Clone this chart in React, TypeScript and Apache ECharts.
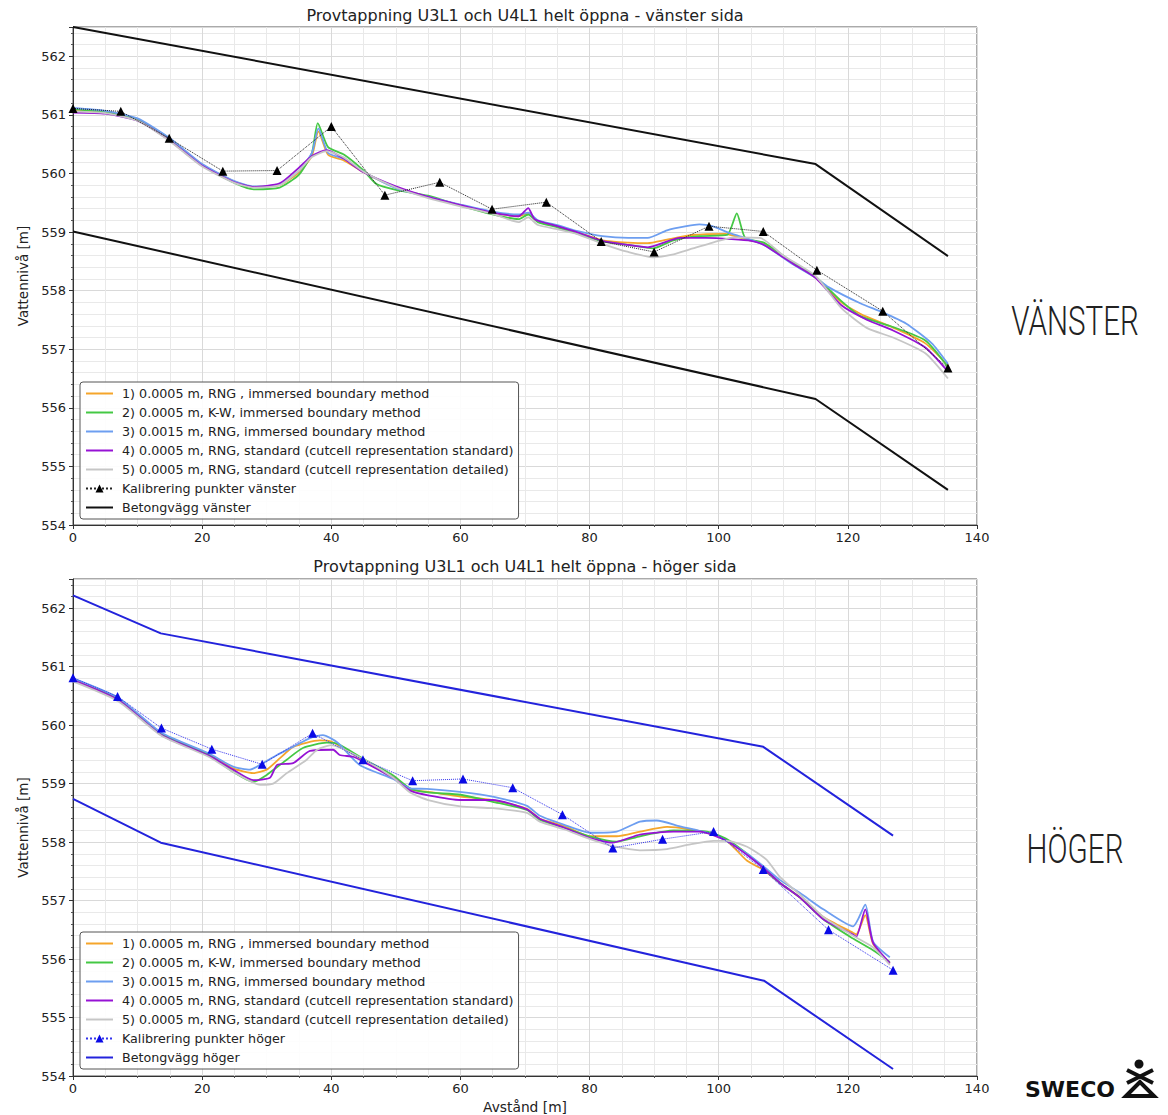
import React, { useEffect, useRef } from "react";
import * as echarts from "echarts";

// ---------- categories / names ----------
const SIM_NAMES = [
  "1) 0.0005 m, RNG , immersed boundary method",
  "2) 0.0005 m, K-W, immersed boundary method",
  "3) 0.0015 m, RNG, immersed boundary method",
  "4) 0.0005 m, RNG, standard (cutcell representation standard)",
  "5) 0.0005 m, RNG, standard (cutcell representation detailed)",
];
const SIM_COLORS = ["#f5a52a", "#44c844", "#6d9ef0", "#9612d4", "#c6c6c6"];

const TITLE_V = "Provtappning U3L1 och U4L1 helt öppna - vänster sida";
const TITLE_H = "Provtappning U3L1 och U4L1 helt öppna - höger sida";
const CALIB_V_NAME = "Kalibrering punkter vänster";
const CALIB_H_NAME = "Kalibrering punkter höger";
const WALL_V_NAME = "Betongvägg vänster";
const WALL_H_NAME = "Betongvägg höger";

// ---------- vänster (left side) ----------
const V_WALL_UPPER = [[0, 562.5], [115, 560.16], [135.5, 558.59]];
const V_WALL_LOWER = [[0, 559.01], [115, 556.15], [135.5, 554.6]];
const V_CALIB = [
  [0, 561.11], [7.4, 561.06], [14.9, 560.6], [23.2, 560.04], [31.6, 560.05],
  [40, 560.8], [48.3, 559.63], [56.8, 559.85], [64.9, 559.39], [73.3, 559.51],
  [81.8, 558.84], [90, 558.66], [98.5, 559.1], [106.9, 559.01], [115.2, 558.35],
  [125.4, 557.65], [135.5, 556.68],
];
const V_S1 = [
  [0, 561.08], [5, 561.05], [10, 560.92], [15, 560.58], [20, 560.15], [25, 559.86],
  [28, 559.77], [32, 559.8], [35, 560.02], [37, 560.3], [38, 560.72], [39.5, 560.32],
  [42, 560.22], [45, 560.02], [50, 559.76], [55, 559.6], [60, 559.46], [65, 559.33],
  [69, 559.27], [70.5, 559.32], [72, 559.18], [75, 559.1], [78, 559.0], [82, 558.86],
  [86, 558.82], [89, 558.81], [92, 558.87], [96, 558.95], [101, 558.97], [104, 558.88],
  [107, 558.8], [111.5, 558.47], [115, 558.22], [119, 557.8], [122, 557.6], [127, 557.37],
  [132, 557.1], [135.5, 556.72],
];
const V_S2 = [
  [0, 561.1], [5, 561.05], [10, 560.92], [15, 560.58], [20, 560.14], [25, 559.84],
  [28, 559.73], [32, 559.76], [35, 559.98], [37, 560.35], [37.9, 560.86], [39.5, 560.45],
  [42, 560.32], [45, 560.05], [47, 559.82], [50, 559.72], [55, 559.62], [60, 559.45],
  [65, 559.3], [69, 559.22], [70.5, 559.3], [72, 559.17], [75, 559.08], [82, 558.84],
  [86, 558.78], [89.8, 558.72], [93, 558.86], [97, 558.93], [101.3, 558.95], [102.8, 559.32],
  [104.1, 558.9], [107, 558.82], [111.5, 558.48], [115, 558.24], [119, 557.82], [122, 557.56],
  [127, 557.38], [132, 557.15], [135.5, 556.7],
];
const V_S3 = [
  [0, 561.12], [5, 561.07], [10, 560.94], [15, 560.6], [20, 560.16], [25, 559.87],
  [28, 559.78], [32, 559.82], [35, 560.05], [37, 560.35], [38, 560.77], [39.5, 560.35],
  [42, 560.25], [45, 560.03], [50, 559.75], [55, 559.6], [60, 559.47], [65, 559.35],
  [69, 559.3], [70.5, 559.33], [72, 559.2], [75, 559.12], [78, 559.02], [82, 558.93],
  [86, 558.9], [89, 558.9], [92, 559.03], [95, 559.1], [97, 559.13], [99, 559.1],
  [101.3, 559.0], [104, 558.9], [107, 558.78], [111.5, 558.45], [115, 558.22], [117, 558.06],
  [122, 557.78], [125.4, 557.63], [129, 557.44], [133, 557.1], [135.5, 556.75],
];
const V_S4 = [
  [0, 561.04], [5, 561.02], [10, 560.9], [15, 560.56], [20, 560.13], [25, 559.85],
  [28, 559.77], [32, 559.83], [35, 560.1], [37, 560.3], [39.3, 560.4], [42, 560.25],
  [45, 560.02], [50, 559.78], [55, 559.6], [60, 559.46], [65, 559.33], [69, 559.27],
  [70.5, 559.41], [71.5, 559.22], [75, 559.1], [78, 559.0], [82, 558.85], [86, 558.78],
  [89, 558.74], [94, 558.9], [98, 558.9], [102, 558.88], [105, 558.85], [107, 558.78],
  [111.5, 558.46], [115, 558.22], [119, 557.75], [123, 557.5], [127, 557.32], [132, 557.03],
  [135.5, 556.62],
];
const V_S5 = [
  [0, 561.06], [5, 561.03], [10, 560.9], [15, 560.55], [20, 560.12], [25, 559.84],
  [28, 559.76], [32, 559.8], [35, 560.05], [37, 560.28], [39.3, 560.38], [42, 560.27],
  [45, 560.03], [50, 559.76], [55, 559.58], [60, 559.44], [65, 559.31], [69, 559.17],
  [70.5, 559.25], [72, 559.12], [75, 559.05], [78, 558.97], [82, 558.8], [86, 558.66],
  [89.8, 558.57], [93, 558.62], [96, 558.72], [100, 558.85], [102.3, 558.91], [106.4, 558.9],
  [110, 558.6], [115, 558.25], [119, 557.7], [123, 557.36], [127, 557.2], [132, 556.93],
  [135.5, 556.5],
];

// ---------- höger (right side) ----------
const H_WALL_UPPER = [[0, 562.22], [13.6, 561.57], [106.9, 559.63], [127, 558.11]];
const H_WALL_LOWER = [[0, 558.74], [13.6, 557.99], [107, 555.63], [127, 554.12]];
const H_CALIB = [
  [0, 560.81], [6.9, 560.49], [13.7, 559.95], [21.5, 559.59], [29.3, 559.33],
  [37.1, 559.86], [44.9, 559.41], [52.6, 559.05], [60.4, 559.08], [68.1, 558.93],
  [75.8, 558.47], [83.6, 557.9], [91.3, 558.05], [99.2, 558.18], [106.9, 557.53],
  [117, 556.5], [127, 555.81],
];
const H_S1 = [
  [0, 560.78], [7, 560.44], [13.7, 559.84], [21, 559.5], [24.8, 559.26], [27.9, 559.18],
  [30, 559.24], [32.1, 559.44], [34.1, 559.63], [38.2, 559.74], [40, 559.72], [44.9, 559.4],
  [49.6, 559.1], [52.2, 558.9], [55, 558.86], [60, 558.78], [65, 558.72], [70.3, 558.57],
  [72.3, 558.4], [76, 558.28], [80, 558.1], [84.2, 558.1], [87.8, 558.18], [92, 558.26],
  [95.3, 558.22], [99.2, 558.13], [101.3, 558.02], [104.4, 557.68], [107, 557.52],
  [109.5, 557.3], [112.6, 557.05], [116.2, 556.72], [120.8, 556.45], [121.3, 556.42],
  [122.7, 556.75], [123.9, 556.26], [126.5, 555.92],
];
const H_S2 = [
  [0, 560.76], [7, 560.45], [13.7, 559.85], [21, 559.5], [24.8, 559.2], [27.9, 559.03],
  [30, 559.15], [33.1, 559.41], [35.6, 559.61], [39.3, 559.7], [41, 559.68], [44.9, 559.43],
  [49.6, 559.14], [52.2, 558.92], [55, 558.85], [60, 558.81], [65, 558.69], [70.3, 558.55],
  [72.3, 558.38], [76, 558.25], [80, 558.1], [84.2, 558.01], [87.8, 558.1], [93, 558.2],
  [98.2, 558.18], [101.3, 558.05], [104.4, 557.8], [107, 557.55], [109.5, 557.3],
  [112.6, 557.05], [116.2, 556.68], [120.8, 556.35], [123.9, 556.15], [126.5, 555.95],
];
const H_S3 = [
  [0, 560.8], [7, 560.47], [13.7, 559.87], [21, 559.52], [24.8, 559.29], [27.4, 559.24],
  [29.4, 559.35], [31.6, 559.49], [34.1, 559.63], [36.7, 559.78], [38.7, 559.83], [41, 559.7],
  [44.4, 559.32], [49.6, 559.08], [52.2, 558.92], [54.8, 558.91], [59.9, 558.86], [65, 558.78],
  [70.3, 558.62], [72.3, 558.45], [76, 558.3], [80.1, 558.16], [84.2, 558.18], [87.8, 558.35],
  [90.4, 558.37], [94, 558.27], [98.2, 558.16], [101.3, 558.02], [104.4, 557.8], [107, 557.58],
  [109.5, 557.35], [112.6, 557.13], [116.2, 556.85], [120.8, 556.56], [122.7, 556.93],
  [123.9, 556.3], [126.5, 556.03],
];
const H_S4 = [
  [0, 560.77], [7, 560.43], [13.7, 559.83], [21, 559.48], [24.8, 559.24], [27.9, 559.06],
  [30.5, 559.1], [31.6, 559.32], [34.1, 559.35], [36.7, 559.56], [40.3, 559.58], [41.3, 559.49],
  [43.4, 559.46], [44.9, 559.38], [49.6, 559.1], [52.2, 558.88], [55, 558.8], [60, 558.72],
  [65, 558.72], [70.3, 558.56], [72.3, 558.4], [76, 558.25], [80.1, 558.07], [83.5, 557.99],
  [87.8, 558.13], [93, 558.18], [97.1, 558.18], [101.3, 558.02], [104.4, 557.78], [107, 557.55],
  [109.5, 557.3], [112.6, 557.05], [116.2, 556.68], [120.8, 556.42], [121.3, 556.38],
  [122.7, 556.85], [123.9, 556.28], [126.5, 555.93],
];
const H_S5 = [
  [0, 560.75], [7, 560.41], [13.7, 559.82], [21, 559.46], [24.8, 559.2], [29, 558.98],
  [31, 559.0], [33.1, 559.18], [36.2, 559.41], [37.8, 559.58], [40, 559.66], [44.9, 559.42],
  [49.6, 559.1], [52.2, 558.85], [55, 558.72], [60, 558.61], [65, 558.58], [70.3, 558.5],
  [72.3, 558.35], [76, 558.22], [80.1, 558.05], [83.7, 557.93], [87.8, 557.86], [92, 557.88],
  [95.6, 557.96], [99.2, 558.02], [101.3, 558.02], [104.4, 557.92], [107.4, 557.7],
  [109.5, 557.4], [112.6, 557.1], [116.2, 556.72], [120.8, 556.4], [123.9, 556.2],
  [126.5, 555.9],
];

const V_SIMS = [V_S1, V_S2, V_S3, V_S4, V_S5];
const H_SIMS = [H_S1, H_S2, H_S3, H_S4, H_S5];

const FONT = "DejaVu Sans";
const SIDE_FONT = "Roboto, 'DejaVu Sans'";

function simSeries(data: number[][], i: number, axis: number) {
  return {
    name: SIM_NAMES[i],
    type: "line",
    xAxisIndex: axis,
    yAxisIndex: axis,
    data,
    symbol: "none",
    smooth: 0.2,
    lineStyle: { color: SIM_COLORS[i], width: 1.8 },
    itemStyle: { color: SIM_COLORS[i] },
    z: 3 + i * 0.1,
  };
}

function wallSeries(name: string, data: number[][], axis: number, color: string) {
  return {
    name,
    type: "line",
    xAxisIndex: axis,
    yAxisIndex: axis,
    data,
    symbol: "none",
    lineStyle: { color, width: 2 },
    itemStyle: { color },
    z: 2,
  };
}

function calibSeries(name: string, data: number[][], axis: number, lineColor: string, markColor: string) {
  return {
    name,
    type: "line",
    xAxisIndex: axis,
    yAxisIndex: axis,
    data,
    symbol: "triangle",
    symbolSize: 9,
    showSymbol: true,
    lineStyle: { color: lineColor, width: 1, type: "dotted" },
    itemStyle: { color: markColor },
    z: 5,
  };
}

function xAxis(gridIndex: number, name?: string) {
  return {
    type: "value",
    gridIndex,
    min: 0,
    max: 140,
    interval: 20,
    name: name || "",
    nameLocation: "middle",
    nameGap: 24,
    nameTextStyle: { fontFamily: FONT, fontSize: 13.8, color: "#222" },
    axisLine: { show: true, onZero: false, lineStyle: { color: "#333", width: 1 } },
    axisTick: { show: true, length: 4, lineStyle: { color: "#333" } },
    minorTick: { show: true, splitNumber: 4, length: 2, lineStyle: { color: "#555" } },
    splitLine: { show: true, lineStyle: { color: "#d9d9d9", width: 1 } },
    minorSplitLine: { show: true, lineStyle: { color: "#e9e9e9", width: 1 } },
    axisLabel: { fontFamily: FONT, fontSize: 13, color: "#222", margin: 6 },
  };
}

function yAxis(gridIndex: number) {
  return {
    type: "value",
    gridIndex,
    min: 554,
    max: 562.5,
    interval: 1,
    name: "Vattennivå [m]",
    nameLocation: "middle",
    nameGap: 38,
    nameTextStyle: { fontFamily: FONT, fontSize: 13.5, color: "#222" },
    axisLine: { show: true, onZero: false, lineStyle: { color: "#333", width: 1 } },
    axisTick: { show: true, length: 4, lineStyle: { color: "#333" } },
    minorTick: { show: true, splitNumber: 5, length: 2, lineStyle: { color: "#555" } },
    splitLine: { show: true, lineStyle: { color: "#d9d9d9", width: 1 } },
    minorSplitLine: { show: true, lineStyle: { color: "#e9e9e9", width: 1 } },
    axisLabel: { fontFamily: FONT, fontSize: 13, color: "#222", margin: 7, showMaxLabel: false },
  };
}

function legend(top: number, calibName: string, wallName: string) {
  const lineOnly = (name: string) => ({ name, itemStyle: { opacity: 0 } });
  return {
    orient: "vertical",
    left: 80,
    top,
    data: [...SIM_NAMES.map(lineOnly), { name: calibName }, lineOnly(wallName)],
    itemWidth: 27,
    itemHeight: 10,
    itemGap: 6,
    padding: [5, 5, 5, 5],
    backgroundColor: "rgba(255,255,255,0.9)",
    borderColor: "#555",
    borderWidth: 1,
    borderRadius: 3,
    selectedMode: false,
    textStyle: { fontFamily: FONT, fontSize: 12.7, color: "#222", padding: [0, 0, 0, 4] },
  };
}

function buildLogo() {
  return {
    type: "group",
    children: [
      {
        type: "text",
        x: 1070,
        y: 1089,
        style: {
          text: "SWECO",
          fontFamily: FONT,
          fontWeight: "bold",
          fontSize: 22,
          fill: "#111",
          textAlign: "center",
          textVerticalAlign: "middle",
        },
      },
      { type: "circle", shape: { cx: 1139, cy: 1064, r: 4.5 }, style: { fill: "#111" } },
      { type: "line", shape: { x1: 1127, y1: 1070, x2: 1153, y2: 1083 }, style: { stroke: "#111", lineWidth: 4 } },
      { type: "line", shape: { x1: 1153, y1: 1070, x2: 1127, y2: 1083 }, style: { stroke: "#111", lineWidth: 4 } },
      {
        type: "polygon",
        shape: { points: [[1140, 1082], [1126, 1096], [1154, 1096]] },
        style: { fill: "none", stroke: "#111", lineWidth: 4, lineJoin: "miter" },
      },
    ],
  };
}

export default function App() {
  const ref = useRef<HTMLDivElement>(null);
  useEffect(() => {
    if (!ref.current) return;
    const chart = echarts.init(ref.current, null, { renderer: "svg" });
    const series: any[] = [];
    V_SIMS.forEach((d, i) => series.push(simSeries(d, i, 0)));
    series.push(calibSeries(CALIB_V_NAME, V_CALIB, 0, "#222", "#000"));
    series.push(wallSeries(WALL_V_NAME, V_WALL_UPPER, 0, "#111"));
    series.push(wallSeries(WALL_V_NAME, V_WALL_LOWER, 0, "#111"));
    H_SIMS.forEach((d, i) => series.push(simSeries(d, i, 1)));
    series.push(calibSeries(CALIB_H_NAME, H_CALIB, 1, "#3333ee", "#0a0ae6"));
    series.push(wallSeries(WALL_H_NAME, H_WALL_UPPER, 1, "#2323dc"));
    series.push(wallSeries(WALL_H_NAME, H_WALL_LOWER, 1, "#2323dc"));

    const option: any = {
      animation: false,
      backgroundColor: "#ffffff",
      grid: [
        { left: 73, top: 27, width: 904, height: 498, show: true, borderColor: "#555", borderWidth: 1, backgroundColor: "transparent" },
        { left: 73, top: 579, width: 904, height: 497, show: true, borderColor: "#555", borderWidth: 1, backgroundColor: "transparent" },
      ],
      xAxis: [xAxis(0), xAxis(1, "Avstånd [m]")],
      yAxis: [yAxis(0), yAxis(1)],
      legend: [
        legend(382, CALIB_V_NAME, WALL_V_NAME),
        legend(932, CALIB_H_NAME, WALL_H_NAME),
      ],
      series,
      graphic: [
        {
          type: "text",
          x: 525,
          y: 15,
          style: { text: TITLE_V, fontFamily: FONT, fontSize: 16, fill: "#222", textAlign: "center", textVerticalAlign: "middle" },
        },
        {
          type: "text",
          x: 525,
          y: 566,
          style: { text: TITLE_H, fontFamily: FONT, fontSize: 16, fill: "#222", textAlign: "center", textVerticalAlign: "middle" },
        },
        {
          type: "text",
          x: 1075,
          y: 321,
          scaleX: 0.74,
          style: { text: "VÄNSTER", fontFamily: SIDE_FONT, fontWeight: 300, fontSize: 40, fill: "#222", textAlign: "center", textVerticalAlign: "middle" },
        },
        {
          type: "text",
          x: 1075,
          y: 849,
          scaleX: 0.74,
          style: { text: "HÖGER", fontFamily: SIDE_FONT, fontWeight: 300, fontSize: 40, fill: "#222", textAlign: "center", textVerticalAlign: "middle" },
        },
        buildLogo(),
      ],
    };
    chart.setOption(option);
    return () => chart.dispose();
  }, []);
  return <div ref={ref} style={{ position: "absolute", left: 0, top: 0, width: 1168, height: 1115 }} />;
}
